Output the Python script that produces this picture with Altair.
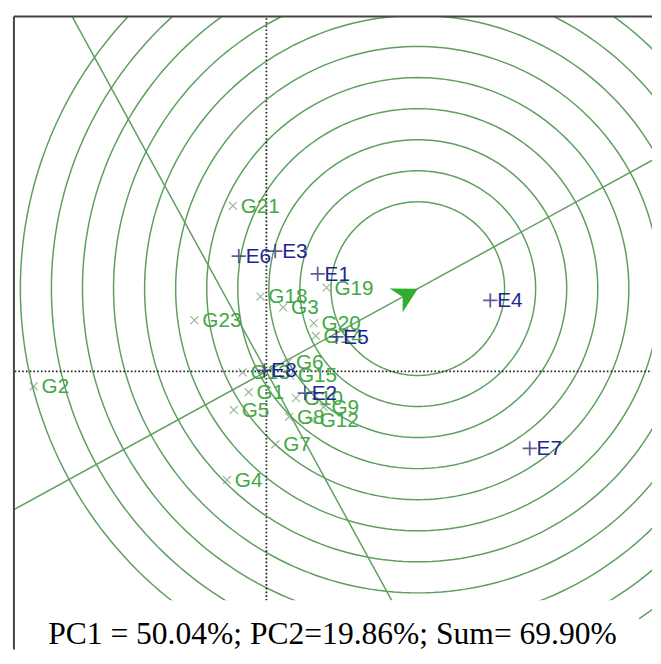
import math
import altair as alt
import numpy as np
import pandas as pd

# ---- data (PC1, PC2 scores) ----
env_names = ["E1", "E2", "E3", "E4", "E5", "E6", "E7", "E8"]
env_pc1 = [0.52, 0.39, 0.09, 2.27, 0.71, -0.28, 2.67, -0.02]
env_pc2 = [0.99, -0.22, 1.22, 0.72, 0.35, 1.17, -0.78, 0.01]

gen_names = ["G1", "G2", "G3", "G4", "G5", "G6", "G7", "G8", "G9", "G10",
             "G12", "G13", "G14", "G15", "G18", "G19", "G20", "G21", "G23"]
gen_pc1 = [-0.18, -2.36, 0.17, -0.40, -0.33, 0.22, 0.09, 0.23, 0.58, 0.30,
           0.46, -0.24, 0.50, 0.24, -0.06, 0.61, 0.48, -0.34, -0.73]
gen_pc2 = [-0.21, -0.15, 0.65, -1.10, -0.39, 0.09, -0.74, -0.46, -0.36, -0.27,
           -0.49, -0.01, 0.36, -0.04, 0.76, 0.85, 0.49, 1.68, 0.52]

ideal = [1.535, 0.84]  # centre of the concentric circles / arrow tip
ring_radii = [0.88, 1.195, 1.51, 1.825, 2.14, 2.455, 2.77, 3.085, 3.40, 3.715, 4.03]

caption = "PC1 = 50.04%; PC2=19.86%; Sum= 69.90%"

x_domain = [-2.56, 3.91]
y_domain = [-2.68, 3.60]

W, H = 647, 628

# ---- derived tables ----
env_df = pd.DataFrame({"name": env_names, "x": env_pc1, "y": env_pc2})
gen_df = pd.DataFrame({"name": gen_names, "x": gen_pc1, "y": gen_pc2})

theta = np.linspace(0, 2 * np.pi, 241)
ring_rows = []
for i, r in enumerate(ring_radii):
    for j, t in enumerate(theta):
        ring_rows.append({"ring": i, "ord": j,
                          "x": ideal[0] + r * np.cos(t),
                          "y": ideal[1] + r * np.sin(t)})
ring_df = pd.DataFrame(ring_rows)

# average-environment axis through origin and ideal point, and its perpendicular
line_rows = [
    {"line": "aea", "ord": 0, "x": -3 * ideal[0], "y": -3 * ideal[1]},
    {"line": "aea", "ord": 1, "x": 3 * ideal[0], "y": 3 * ideal[1]},
    {"line": "perp", "ord": 0, "x": 3 * ideal[1], "y": -3 * ideal[0]},
    {"line": "perp", "ord": 1, "x": -3 * ideal[1], "y": 3 * ideal[0]},
]
line_df = pd.DataFrame(line_rows)

axes_df = pd.DataFrame([
    {"ax": "h", "ord": 0, "x": -10, "y": 0}, {"ax": "h", "ord": 1, "x": 10, "y": 0},
    {"ax": "v", "ord": 0, "x": 0, "y": -10}, {"ax": "v", "ord": 1, "x": 0, "y": 10},
])

arrow_angle = (360 - math.degrees(math.atan2(ideal[1], ideal[0]))) % 360
arrow_df = pd.DataFrame({"x": [ideal[0]], "y": [ideal[1]], "a": [arrow_angle]})

xs = alt.Scale(domain=x_domain, nice=False, zero=False)
ys = alt.Scale(domain=y_domain, nice=False, zero=False)
X = alt.X("x:Q", scale=xs, axis=None)
Y = alt.Y("y:Q", scale=ys, axis=None)

RING = "#5e9e5e"
GEN_TXT = "#43a843"
GEN_MK = "#6f9f6f"
ENV_TXT = "#1f2590"
ENV_MK = "#1a1f70"

rings = alt.Chart(ring_df).mark_line(color=RING, strokeWidth=1.5, clip=True).encode(
    x=X, y=Y, detail="ring:N", order="ord:Q")

lines = alt.Chart(line_df).mark_line(color=RING, strokeWidth=1.5, clip=True).encode(
    x=X, y=Y, detail="line:N", order="ord:Q")

axes = alt.Chart(axes_df).mark_line(color="#222222", strokeWidth=1.8,
                                    strokeDash=[1.6, 2.2], clip=True).encode(
    x=X, y=Y, detail="ax:N", order="ord:Q")

gen_pts = alt.Chart(gen_df).mark_point(
    shape="M-1,-1L1,1M-1,1L1,-1", filled=False, size=64, strokeWidth=1.2,
    color=GEN_MK).encode(x=X, y=Y)
gen_lbl = alt.Chart(gen_df).mark_text(
    align="left", baseline="middle", dx=8, dy=1, fontSize=21,
    font="Liberation Sans", color=GEN_TXT).encode(x=X, y=Y, text="name:N")

env_pts = alt.Chart(env_df).mark_point(
    shape="M-1,0L1,0M0,-1L0,1", filled=False, size=210, strokeWidth=1.8,
    color=ENV_MK).encode(x=X, y=Y)
env_lbl = alt.Chart(env_df).mark_text(
    align="left", baseline="middle", dx=7, dy=1, fontSize=21,
    font="Liberation Sans", color=ENV_TXT).encode(x=X, y=Y, text="name:N")

arrow = alt.Chart(arrow_df).mark_point(
    shape="M0,0L-1,-0.55L-0.7,0L-1,0.55Z", filled=True, size=2500,
    color="#2fae2f", opacity=1, strokeWidth=1).encode(
    x=X, y=Y, angle=alt.Angle("a:Q", scale=None))

box = alt.Chart(pd.DataFrame({"k": [0]})).mark_rect(color="white", opacity=1).encode(
    x=alt.value(3), x2=alt.value(634), y=alt.value(592), y2=alt.value(W))

cap = alt.Chart(pd.DataFrame({"t": [caption]})).mark_text(
    align="center", baseline="alphabetic", fontSize=32, font="Liberation Serif",
    color="black").encode(x=alt.value(323), y=alt.value(636), text="t:N")

left_border = alt.Chart(pd.DataFrame({"k": [0]})).mark_rule(
    color="#444444", strokeWidth=2).encode(
    x=alt.value(0), y=alt.value(0), y2=alt.value(642))
top_border = alt.Chart(pd.DataFrame({"k": [0]})).mark_rule(
    color="#444444", strokeWidth=2).encode(
    y=alt.value(0), x=alt.value(0), x2=alt.value(W))

chart = alt.layer(
    rings, lines, axes, gen_pts, gen_lbl, env_pts, env_lbl, arrow,
    box, cap, left_border, top_border
).properties(
    width=W, height=H,
    padding={"left": 5, "top": 3, "right": 0, "bottom": 0},
).configure_view(stroke=None)

chart.save("out.html", embed_options={"renderer": "svg", "actions": False})
